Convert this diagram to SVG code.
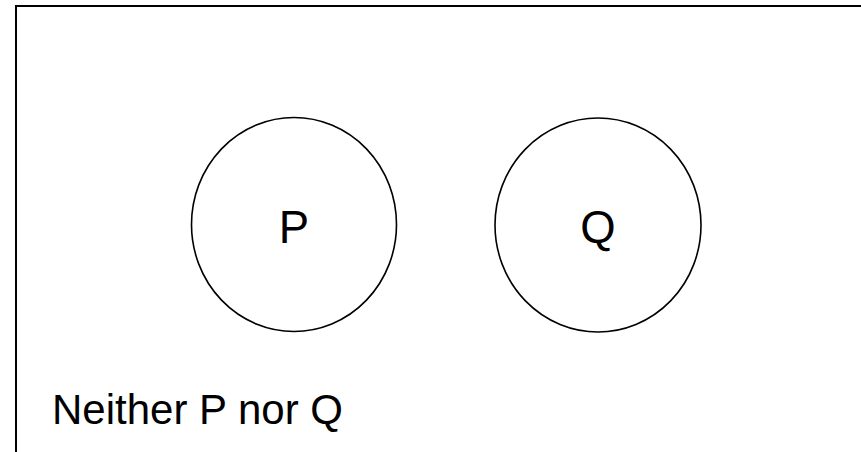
<svg xmlns="http://www.w3.org/2000/svg" width="861" height="452" viewBox="0 0 861 452">
  <style>
    .set { fill: none; stroke: #000; stroke-width: 1.6; }
    .frame { fill: none; stroke: #000; stroke-width: 2; }
    .lbl { font-family: "Liberation Sans", Arial, sans-serif; fill: #000; }
  </style>
  <rect width="861" height="452" fill="#fff"/>
  <!-- universe border: top and left edges -->
  <g id="universe">
    <path class="frame" d="M16 452 V6 H861"/>
  </g>
  <g id="connectors"></g>
  <g id="set-p">
    <ellipse class="set" cx="294" cy="224.5" rx="102.5" ry="107"/>
    <text class="lbl" x="294" y="242.5" font-size="45.5" text-anchor="middle">P</text>
  </g>
  <g id="set-q">
    <ellipse class="set" cx="598" cy="225" rx="103" ry="107"/>
    <text class="lbl" x="598" y="242.5" font-size="45.5" text-anchor="middle">Q</text>
  </g>
  <g id="caption">
    <text class="lbl" x="52" y="424" font-size="42">Neither P nor Q</text>
  </g>
</svg>
